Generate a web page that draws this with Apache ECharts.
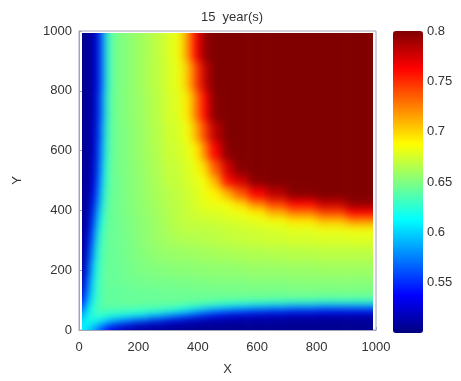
<!DOCTYPE html>
<html>
<head>
<meta charset="utf-8">
<script src="https://cdn.jsdelivr.net/npm/echarts@6/dist/echarts.min.js"></script>
<style>
html, body { margin: 0; padding: 0; background: #fff; }
#main { width: 461px; height: 381px; }
</style>
</head>
<body>
<div id="main"></div>
<script>
// cell edges of the field (X and Y in metres)
var xEdges = [0, 15, 30, 45, 60, 75, 90, 110, 140, 180, 230, 280, 320, 350, 380, 410, 440, 480, 520, 570, 630, 700, 800, 900, 1000];
var yEdges = [0, 15, 30, 45, 60, 75, 90, 110, 140, 180, 230, 280, 320, 350, 380, 410, 440, 480, 520, 570, 630, 700, 800, 900, 1000];

// values, one row per y cell (bottom row first)
var zRows = [
  [.612,.605,.595,.58,.565,.55,.535,.522,.513,.509,.507,.506,.506,.505,.505,.505,.505,.505,.505,.505,.505,.505,.505,.505],
  [.605,.62,.613,.607,.6,.59,.575,.56,.545,.525,.516,.513,.511,.51,.509,.508,.508,.507,.507,.507,.507,.506,.506,.506],
  [.595,.613,.625,.622,.618,.613,.605,.598,.59,.575,.555,.542,.532,.525,.52,.517,.514,.512,.511,.51,.51,.509,.508,.508],
  [.58,.607,.622,.63,.63,.628,.626,.622,.62,.615,.605,.593,.58,.568,.557,.548,.54,.532,.527,.523,.52,.517,.515,.515],
  [.565,.6,.618,.63,.635,.636,.636,.634,.634,.632,.63,.625,.618,.61,.6,.59,.58,.57,.562,.555,.55,.545,.54,.54],
  [.55,.59,.613,.628,.636,.64,.64,.64,.64,.64,.639,.638,.636,.633,.63,.625,.62,.615,.61,.605,.6,.595,.59,.59],
  [.535,.575,.605,.626,.636,.64,.642,.643,.644,.644,.644,.644,.644,.644,.643,.643,.642,.641,.64,.638,.637,.635,.632,.632],
  [.522,.56,.598,.622,.634,.64,.643,.64,.642,.643,.643,.644,.644,.644,.645,.645,.645,.645,.646,.646,.646,.647,.647,.647],
  [.513,.545,.59,.62,.634,.64,.644,.642,.645,.646,.647,.647,.648,.648,.649,.649,.65,.65,.65,.651,.651,.652,.652,.652],
  [.509,.525,.575,.615,.632,.64,.644,.643,.646,.649,.651,.652,.653,.653,.654,.654,.655,.655,.656,.657,.657,.658,.659,.659],
  [.507,.516,.555,.605,.63,.639,.644,.643,.647,.651,.655,.657,.658,.658,.659,.66,.661,.662,.663,.664,.665,.666,.667,.667],
  [.506,.513,.542,.593,.625,.638,.644,.644,.647,.652,.657,.661,.663,.664,.665,.666,.667,.669,.67,.672,.673,.675,.676,.677],
  [.506,.511,.532,.58,.618,.636,.644,.644,.648,.653,.658,.663,.666,.668,.668,.668,.669,.671,.672,.674,.676,.679,.682,.684],
  [.505,.51,.525,.568,.61,.633,.644,.644,.648,.653,.658,.664,.668,.67,.671,.672,.673,.675,.677,.68,.684,.693,.704,.717],
  [.505,.509,.52,.557,.6,.63,.643,.645,.649,.654,.659,.665,.668,.671,.674,.677,.677,.68,.683,.692,.711,.727,.743,.762],
  [.505,.508,.517,.548,.59,.625,.643,.645,.649,.654,.66,.666,.668,.672,.677,.68,.683,.685,.699,.725,.745,.762,.78,.795],
  [.505,.508,.514,.54,.58,.62,.642,.645,.65,.655,.661,.667,.669,.673,.677,.683,.692,.711,.737,.763,.783,.798,.8,.8],
  [.505,.507,.512,.532,.57,.615,.641,.645,.65,.655,.662,.669,.671,.675,.68,.685,.711,.759,.775,.797,.8,.8,.8,.8],
  [.505,.507,.511,.527,.562,.61,.64,.646,.65,.656,.663,.67,.672,.677,.683,.699,.737,.775,.798,.8,.8,.8,.8,.8],
  [.505,.507,.51,.523,.555,.605,.638,.646,.651,.657,.664,.672,.674,.68,.692,.725,.763,.797,.8,.8,.8,.8,.8,.8],
  [.505,.507,.51,.52,.55,.6,.637,.646,.651,.657,.665,.673,.676,.684,.711,.745,.783,.8,.8,.8,.8,.8,.8,.8],
  [.505,.506,.509,.517,.545,.595,.635,.647,.652,.658,.666,.675,.679,.693,.727,.762,.798,.8,.8,.8,.8,.8,.8,.8],
  [.505,.506,.508,.515,.54,.59,.632,.647,.652,.659,.667,.676,.682,.704,.743,.78,.8,.8,.8,.8,.8,.8,.8,.8],
  [.505,.506,.508,.515,.54,.59,.632,.647,.652,.659,.667,.677,.684,.717,.762,.795,.8,.8,.8,.8,.8,.8,.8,.8]
];

var barTicks = [0.55, 0.6, 0.65, 0.7, 0.75, 0.8];

// jet colormap
var jet = ['#000080', '#0000ff', '#0080ff', '#00ffff', '#80ff80', '#ffff00', '#ff8000', '#ff0000', '#800000'];

var cells = [];
zRows.forEach(function (row, j) {
  row.forEach(function (v, i) {
    cells.push([xEdges[i], xEdges[i + 1], yEdges[j], yEdges[j + 1], v]);
  });
});

var font = 'Liberation Sans, Arial, sans-serif';
var txt = '#333';
var lineCol = '#a4a4b8';

function renderCell(params, api) {
  var a = api.coord([api.value(0), api.value(3)]);
  var b = api.coord([api.value(1), api.value(2)]);
  var x0 = a[0], y0 = a[1], x1 = b[0], y1 = b[1];
  // pad the outer cells so the blur does not fade the image border
  if (api.value(0) === 0) x0 -= 10;
  if (api.value(1) === 1000) x1 += 10;
  if (api.value(2) === 0) y1 += 10;
  if (api.value(3) === 1000) y0 -= 10;
  return {
    type: 'rect',
    shape: { x: x0, y: y0, width: x1 - x0 + 0.6, height: y1 - y0 + 0.6 },
    style: { fill: api.visual('color') }
  };
}

var myChart = echarts.init(document.getElementById('main'));

var option = {
  animation: false,
  backgroundColor: '#fff',
  title: {
    text: '15  year(s)',
    left: 227,
    top: 6,
    textAlign: 'center',
    textStyle: { fontFamily: font, fontSize: 13, fontWeight: 'normal', color: txt }
  },
  grid: [
    { left: 79, top: 31, width: 297, height: 302, show: true, borderColor: lineCol, borderWidth: 1 },
    { left: 393, top: 31, width: 30, height: 302 }
  ],
  xAxis: [
    {
      gridIndex: 0, type: 'value', min: 0, max: 1000, interval: 200,
      name: 'X', nameLocation: 'middle', nameGap: 33,
      nameTextStyle: { fontFamily: font, fontSize: 13, color: txt },
      axisLine: { lineStyle: { color: lineCol } },
      axisTick: { inside: true, length: 3, lineStyle: { color: lineCol } },
      axisLabel: { fontFamily: font, fontSize: 13, color: txt, margin: 11, formatter: function (v) { return String(v); } },
      splitLine: { show: false }
    },
    { gridIndex: 1, type: 'value', min: 0, max: 1, show: false }
  ],
  yAxis: [
    {
      gridIndex: 0, type: 'value', min: 0, max: 1000, interval: 200,
      name: 'Y', nameLocation: 'middle', nameGap: 55,
      nameTextStyle: { fontFamily: font, fontSize: 13, color: txt },
      axisLine: { lineStyle: { color: lineCol } },
      axisTick: { inside: true, length: 3, lineStyle: { color: lineCol } },
      axisLabel: { fontFamily: font, fontSize: 13, color: txt, margin: 7, formatter: function (v) { return String(v); } },
      splitLine: { show: false }
    },
    {
      gridIndex: 1, type: 'value', min: 0.5, max: 0.8, interval: 0.05,
      position: 'right',
      axisLine: { show: false },
      axisTick: { show: false },
      axisLabel: {
        fontFamily: font, fontSize: 13, color: txt, margin: 4,
        formatter: function (v) {
          var r = Math.round(v * 100) / 100;
          return barTicks.indexOf(r) >= 0 ? String(r) : '';
        }
      },
      splitLine: { show: false }
    }
  ],
  visualMap: {
    type: 'continuous',
    min: 0.5,
    max: 0.8,
    dimension: 4,
    seriesIndex: 0,
    calculable: false,
    hoverLink: false,
    left: 393,
    top: 31,
    padding: 0,
    itemWidth: 30,
    itemHeight: 302,
    inRange: { color: jet }
  },
  series: [
    {
      type: 'custom',
      zlevel: 1,
      xAxisIndex: 0,
      yAxisIndex: 0,
      clip: false,
      renderItem: renderCell,
      encode: { x: [0, 1], y: [2, 3] },
      data: cells
    }
  ]
};

myChart.setOption(option);

// soften the cell steps like the smooth source image, keep it inside the axes box
var layer = myChart.getZr().painter.getLayer(1);
if (layer && layer.dom) {
  layer.dom.style.filter = 'blur(4.5px)';
  layer.dom.style.clipPath = 'inset(33px 88px 51px 82px)';
}
</script>
</body>
</html>
